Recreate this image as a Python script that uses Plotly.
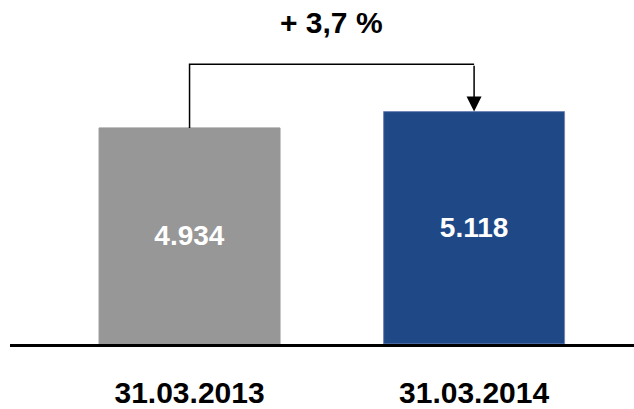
import plotly.graph_objects as go

categories = ["31.03.2013", "31.03.2014"]
values = [4934, 5118]
value_labels = ["4.934", "5.118"]
bar_colors = ["#979797", "#1f4886"]
line_colors = ["#979797", "#6f86b8"]

y_min, y_max = 2500, 6375
connector_level = 5650

x_pos = [0, 1]
change = (values[1] / values[0] - 1) * 100
change_text = "+ " + f"{change:.1f}".replace(".", ",") + " %"

FONT = "Liberation Sans, Arial, sans-serif"

fig = go.Figure()
fig.add_trace(go.Bar(
    x=x_pos, y=[v - y_min for v in values], base=y_min, width=0.636,
    marker=dict(color=bar_colors, line=dict(color=line_colors, width=1)),
    text=value_labels, textposition="inside", insidetextanchor="middle",
    textangle=0,
    textfont=dict(family=FONT, size=28, color="white", weight="bold"),
    hoverinfo="skip",
))
# connector line from first bar to level to over second bar
fig.add_trace(go.Scatter(
    x=[x_pos[0], x_pos[0], x_pos[1]],
    y=[values[0], connector_level, connector_level],
    mode="lines", line=dict(color="black", width=1.5),
    hoverinfo="skip", cliponaxis=False,
))
fig.add_annotation(
    x=x_pos[1], y=values[1], ax=x_pos[1], ay=connector_level,
    xref="x", yref="y", axref="x", ayref="y",
    showarrow=True, arrowhead=2, arrowsize=2, arrowwidth=1.5,
    arrowcolor="black", text="", standoff=0,
)
fig.add_annotation(
    x=(x_pos[0] + x_pos[1]) / 2, y=connector_level, yshift=42,
    xref="x", yref="y", showarrow=False, text=change_text,
    font=dict(family=FONT, size=30, color="black", weight="bold"),
    yanchor="middle",
)

fig.update_layout(
    width=634, height=409,
    margin=dict(l=10, r=0, t=0, b=63),
    paper_bgcolor="white", plot_bgcolor="white",
    showlegend=False,
    xaxis=dict(
        range=[-0.631, 1.562], tickvals=x_pos, ticktext=categories,
        showline=True, linecolor="black", linewidth=3,
        showgrid=False, zeroline=False,
        ticks="outside", ticklen=20, tickcolor="rgba(0,0,0,0)",
        tickfont=dict(family=FONT, size=30, color="black", weight="bold"),
        fixedrange=True,
    ),
    yaxis=dict(
        range=[y_min, y_max], visible=False, showgrid=False,
        zeroline=False, fixedrange=True,
    ),
)

fig.write_html("out.html")
